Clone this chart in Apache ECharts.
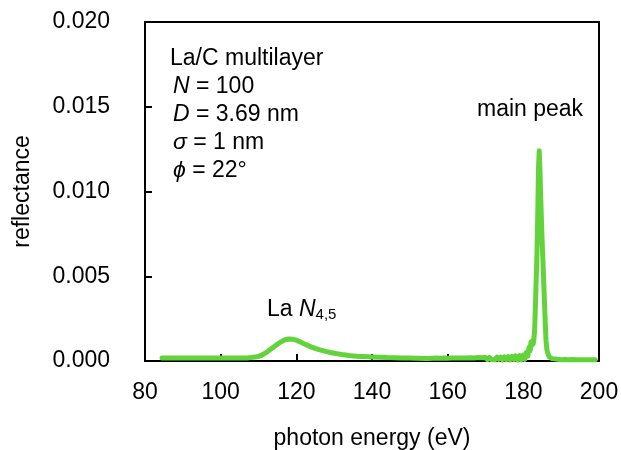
<!DOCTYPE html>
<html>
<head>
<meta charset="utf-8">
<script src="https://cdn.jsdelivr.net/npm/echarts@6/dist/echarts.min.js"></script>
<style>html,body{margin:0;padding:0;background:#fff}#c{width:621px;height:450px}</style>
</head>
<body>
<div id="c"></div>
<script>
// photon energy (eV)
const energy = [
  84.5,85,85.5,86,86.5,87,87.5,88,88.5,89,89.5,90,90.5,91,91.5,92,92.5,93,93.5,94,94.5,95,95.5,96,96.5,97,97.5,98,98.5,99,99.5,100,100.5,101,101.5,102,102.5,103,103.5,104,104.5,105,105.5,
  106,107,108,109,110,111,112,113,114,115,116,117,118,119,120,121,122,123,124,125,126,127,128,129,130,131,132,133,134,135,136,137,138,139,140,
  142,144,146,148,150,152,154,
  155,155.5,156,156.5,157,157.5,158,158.5,159,159.5,160,160.5,161,161.5,162,162.5,163,163.5,164,164.5,165,165.5,166,166.5,167,167.5,168,168.5,169,169.5,170,170.5,171,171.5,172,172.5,173,173.5,174,174.5,175,175.5,176,176.5,177,177.5,178,178.5,179,179.5,
  180,180.4,180.8,181.2,181.5,181.8,182,182.2,182.4,182.6,182.8,183,183.2,183.4,183.6,183.8,184,184.2,184.4,184.6,184.8,185,185.2,185.4,185.6,185.8,186,186.2,186.4,186.6,186.8,187.2,187.6,188,
  189,190,191,192,193,194,195,196,197,198,199
];
// reflectance
const reflectance = [
  0.00018,0.00013,0.00018,0.00012,0.00017,0.00013,0.00018,0.00012,0.00017,0.00012,0.00018,0.00013,0.00017,0.00012,0.00018,0.00013,0.00017,0.00012,0.00017,0.00013,0.00018,0.00012,0.00017,0.00013,0.00018,0.00013,0.00017,0.00012,0.00017,0.00013,0.00018,0.00013,0.00017,0.00013,0.00018,0.00014,0.00018,0.00014,0.00018,0.00015,0.00018,0.00016,0.00018,
  0.00017,0.00018,0.0002,0.00023,0.00027,0.00036,0.00049,0.00066,0.00082,0.00099,0.00114,0.00125,0.0013,0.00128,0.00123,0.00113,0.00102,0.00092,0.00082,0.00074,0.00067,0.00061,0.00055,0.0005,0.00046,0.00042,0.00038,0.00035,0.00032,0.0003,0.00028,0.00027,0.00026,0.00025,0.00024,
  0.00022,0.0002,0.00019,0.00018,0.00017,0.00016,0.00015,
  0.00015,0.00012,0.00016,0.00012,0.00017,0.00011,0.00016,0.00012,0.00017,0.00011,0.00016,0.0001,0.00017,0.00011,0.00018,0.0001,0.00017,0.0001,0.00018,0.00011,0.00018,0.0001,0.00019,0.00009,0.00018,0.0001,0.0002,0.00009,0.00019,0.0001,0.0002,0.00008,0.00021,0.00009,0.0002,0.00008,0.00022,0.00009,0.00023,0.00007,0.00024,0.00008,0.00026,0.00007,0.00028,0.00008,0.0003,0.00006,0.00032,0.00008,
  0.00035,0.0001,0.0005,0.0003,0.0008,0.0006,0.0011,0.0009,0.0012,0.001,0.0013,0.0019,0.0033,0.0048,0.0063,0.0085,0.0113,0.0124,0.0112,0.0096,0.0082,0.0069,0.0058,0.0046,0.0034,0.0022,0.0012,0.0007,0.0005,0.0004,0.00025,0.00018,0.00014,0.00012,
  0.0001,0.00008,0.00009,0.00008,0.00009,0.00007,0.00008,0.00007,0.00008,0.00007,0.00008
];
const xTicks = {min: 80, max: 200, interval: 20};
const yTicks = {min: 0, max: 0.02, interval: 0.005};
const infoLines = ['La/C multilayer', '{i|N} = 100', '{i|D} = 3.69 nm', '{i|σ} = 1 nm', '{i|ϕ} = 22°'];

const FONT = '"Liberation Sans", Helvetica, Arial, sans-serif';
const FS = 23;
const chart = echarts.init(document.getElementById('c'), null, {renderer: 'canvas'});
const data = energy.map((e, i) => [e, reflectance[i]]);

const graphics = infoLines.map((t, k) => ({
  type: 'text',
  x: k === 0 ? 170 : 173,
  y: 59 + k * 27.8,
  style: {
    text: t,
    fill: '#000',
    fontSize: FS, fontFamily: FONT,
    verticalAlign: 'middle',
    rich: {i: {fontStyle: 'italic', fontSize: FS, fontFamily: FONT, fill: '#000'}}
  }
}));
graphics.push({
  type: 'text', x: 477, y: 110,
  style: {text: 'main peak', fill: '#000', fontSize: FS, fontFamily: FONT, verticalAlign: 'middle'}
});
graphics.push({
  type: 'text', x: 267, y: 310,
  style: {
    text: '{a|La }{n|N}{s|4,5}', fill: '#000', fontSize: FS, fontFamily: FONT, verticalAlign: 'middle',
    rich: {
      a: {fontSize: FS, fontFamily: FONT, fill: '#000', lineHeight: 24},
      n: {fontSize: FS, fontFamily: FONT, fill: '#000', fontStyle: 'italic', lineHeight: 24},
      s: {fontSize: 15, fontFamily: FONT, fill: '#000', verticalAlign: 'bottom', lineHeight: 24}
    }
  }
});

chart.setOption({
  animation: false,
  backgroundColor: '#fff',
  grid: {left: 145, right: 22, top: 22, bottom: 89, containLabel: false, outerBoundsMode: 'none',
    show: true, borderColor: '#000', borderWidth: 2, backgroundColor: 'transparent'},
  xAxis: {
    type: 'value', min: xTicks.min, max: xTicks.max, interval: xTicks.interval,
    name: 'photon energy (eV)', nameLocation: 'middle', nameGap: 66,
    nameTextStyle: {fontSize: FS, fontFamily: FONT, color: '#000'},
    axisLine: {show: true, lineStyle: {color: '#000', width: 2}},
    axisTick: {show: true, inside: true, length: 7, lineStyle: {color: '#000', width: 2}},
    axisLabel: {fontSize: FS, fontFamily: FONT, color: '#000', margin: 20},
    splitLine: {show: false}
  },
  yAxis: {
    type: 'value', min: yTicks.min, max: yTicks.max, interval: yTicks.interval,
    name: 'reflectance', nameLocation: 'middle', nameGap: 111,
    nameTextStyle: {fontSize: FS, fontFamily: FONT, color: '#000'},
    axisLine: {show: true, lineStyle: {color: '#000', width: 2}},
    axisTick: {show: true, inside: true, length: 7, lineStyle: {color: '#000', width: 2}},
    axisLabel: {fontSize: FS, fontFamily: FONT, color: '#000', margin: 35, formatter: v => v.toFixed(3)},
    splitLine: {show: false}
  },
  series: [{
    type: 'line', data: data, showSymbol: false, symbol: 'none', smooth: false,
    lineStyle: {color: '#63d33c', width: 5, join: 'round', cap: 'round'},
    z: 3
  }],
  graphic: graphics
});
</script>
</body>
</html>
